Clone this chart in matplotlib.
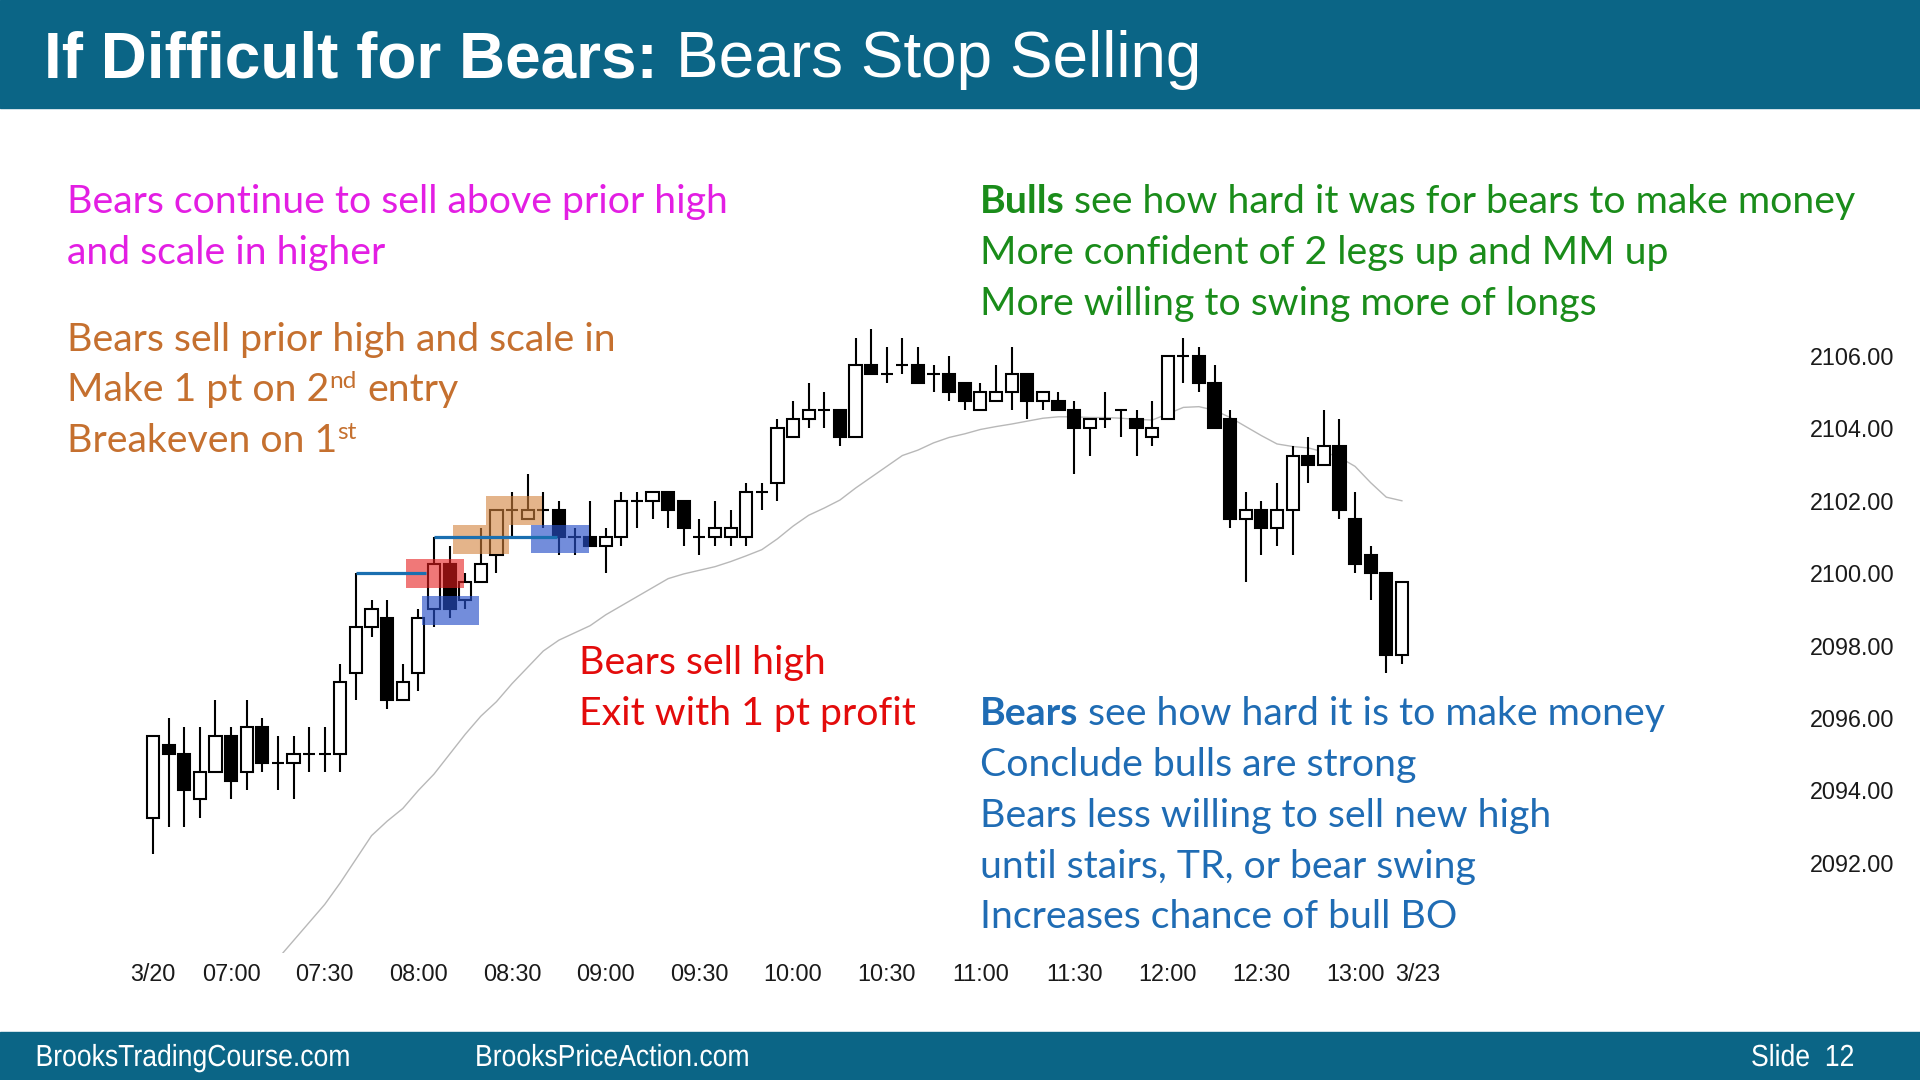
import matplotlib
matplotlib.use("Agg")
import matplotlib.pyplot as plt
from matplotlib.patches import Rectangle, PathPatch
from matplotlib.textpath import TextPath
from matplotlib.font_manager import FontProperties
from matplotlib.transforms import Affine2D

W, H = 1920, 1080

# 5-min bars 06:35 .. 13:15, one session
opens = [2093.25, 2095.25, 2095.00, 2093.75, 2094.50, 2095.50, 2094.50, 2095.75, 2094.75, 2094.75,
         2095.00, 2095.00, 2095.00, 2097.25, 2098.50, 2098.75, 2096.50, 2097.25, 2099.00, 2100.25,
         2099.25, 2099.75, 2100.50, 2101.75, 2101.50, 2101.75, 2101.75, 2101.00, 2101.00, 2100.75,
         2101.00, 2102.00, 2102.00, 2102.25, 2102.00, 2101.00, 2101.00, 2101.00, 2101.00, 2102.25,
         2102.50, 2103.75, 2104.25, 2104.50, 2104.50, 2103.75, 2105.75, 2105.50, 2105.75, 2105.75,
         2105.50, 2105.50, 2105.25, 2104.50, 2104.75, 2105.00, 2105.50, 2104.75, 2104.75, 2104.50,
         2104.00, 2104.25, 2104.50, 2104.25, 2103.75, 2104.25, 2106.00, 2106.00, 2105.25, 2104.25,
         2101.50, 2101.75, 2101.25, 2101.75, 2103.25, 2103.00, 2103.50, 2101.50, 2100.50, 2100.00,
         2097.75]
highs = [2095.50, 2096.00, 2095.75, 2095.75, 2096.50, 2095.75, 2096.50, 2096.00, 2095.50, 2095.50,
         2095.75, 2095.75, 2097.50, 2100.00, 2099.25, 2099.25, 2097.50, 2099.00, 2101.00, 2100.75,
         2100.00, 2101.25, 2101.75, 2102.25, 2102.75, 2102.25, 2102.00, 2101.25, 2102.00, 2101.25,
         2102.25, 2102.25, 2102.25, 2102.25, 2102.00, 2101.50, 2102.00, 2101.75, 2102.50, 2102.50,
         2104.25, 2104.75, 2105.25, 2105.00, 2104.50, 2106.50, 2106.75, 2106.25, 2106.50, 2106.25,
         2105.75, 2106.00, 2105.25, 2105.25, 2105.75, 2106.25, 2105.50, 2105.00, 2105.00, 2104.75,
         2104.25, 2105.00, 2104.50, 2104.50, 2104.75, 2106.00, 2106.50, 2106.25, 2105.75, 2104.50,
         2102.25, 2102.00, 2102.50, 2103.50, 2103.75, 2104.50, 2104.25, 2102.25, 2100.75, 2100.00,
         2099.75]
lows = [2092.25, 2093.00, 2093.00, 2093.25, 2094.50, 2093.75, 2094.00, 2094.50, 2094.00, 2093.75,
        2094.50, 2094.50, 2094.50, 2096.50, 2098.25, 2096.25, 2096.50, 2096.75, 2098.50, 2098.75,
        2099.00, 2099.75, 2100.00, 2101.00, 2101.50, 2101.25, 2100.50, 2100.50, 2100.75, 2100.00,
        2100.75, 2101.25, 2101.50, 2101.25, 2100.75, 2100.50, 2100.75, 2100.75, 2100.75, 2101.75,
        2102.00, 2103.75, 2104.00, 2104.00, 2103.50, 2103.75, 2105.50, 2105.25, 2105.50, 2105.25,
        2105.00, 2104.75, 2104.50, 2104.50, 2104.75, 2104.50, 2104.25, 2104.50, 2104.50, 2102.75,
        2103.25, 2104.00, 2103.75, 2103.25, 2103.50, 2104.25, 2105.25, 2105.00, 2104.00, 2101.25,
        2099.75, 2100.50, 2100.75, 2100.50, 2102.50, 2103.00, 2101.50, 2100.00, 2099.25, 2097.25,
        2097.50]
closes = [2095.50, 2095.00, 2094.00, 2094.50, 2095.50, 2094.25, 2095.75, 2094.75, 2094.75, 2095.00,
          2095.00, 2095.00, 2097.00, 2098.50, 2099.00, 2096.50, 2097.00, 2098.75, 2100.25, 2099.00,
          2099.75, 2100.25, 2101.75, 2101.75, 2101.75, 2101.75, 2101.00, 2101.00, 2100.75, 2101.00,
          2102.00, 2102.00, 2102.25, 2101.75, 2101.25, 2101.00, 2101.25, 2101.25, 2102.25, 2102.25,
          2104.00, 2104.25, 2104.50, 2104.50, 2103.75, 2105.75, 2105.50, 2105.50, 2105.75, 2105.25,
          2105.50, 2105.00, 2104.75, 2105.00, 2105.00, 2105.50, 2104.75, 2105.00, 2104.50, 2104.00,
          2104.25, 2104.25, 2104.50, 2104.00, 2104.00, 2106.00, 2106.00, 2105.25, 2104.00, 2101.50,
          2101.75, 2101.25, 2101.75, 2103.25, 2103.00, 2103.50, 2101.75, 2100.25, 2100.00, 2097.75,
          2099.75]

# 20-bar EMA (only the part that shows on the chart, from bar 8)
ema_start = 8
ema = [2089.35, 2089.85, 2090.35, 2090.85, 2091.45, 2092.10, 2092.75, 2093.15, 2093.50, 2094.00,
       2094.45, 2095.00, 2095.55, 2096.05, 2096.45, 2096.95, 2097.40, 2097.85, 2098.15, 2098.35,
       2098.55, 2098.85, 2099.10, 2099.35, 2099.60, 2099.85, 2099.98, 2100.08, 2100.18, 2100.32,
       2100.48, 2100.65, 2100.95, 2101.30, 2101.60, 2101.80, 2102.02, 2102.35, 2102.65, 2102.95,
       2103.25, 2103.40, 2103.60, 2103.75, 2103.85, 2103.97, 2104.05, 2104.12, 2104.20, 2104.28,
       2104.32, 2104.32, 2104.30, 2104.30, 2104.28, 2104.25, 2104.23, 2104.40, 2104.58, 2104.60,
       2104.50, 2104.30, 2104.05, 2103.80, 2103.57, 2103.50, 2103.46, 2103.35, 2103.20, 2102.95,
       2102.50, 2102.10, 2102.00]

tick_bars = [0, 5, 11, 17, 23, 29, 35, 41, 47, 53, 59, 65, 71, 77, 81]
tick_labels = ["3/20", "07:00", "07:30", "08:00", "08:30", "09:00", "09:30", "10:00",
               "10:30", "11:00", "11:30", "12:00", "12:30", "13:00", "3/23"]
price_ticks = [2092, 2094, 2096, 2098, 2100, 2102, 2104, 2106]

# entry zones: bar from, bar to, price low, price high
zone_bars = [(16.2, 19.9), (17.2, 20.9), (19.2, 22.8), (21.3, 24.9), (24.2, 27.9)]
zone_prices = [(2099.59, 2100.39), (2098.57, 2099.37), (2100.53, 2101.32),
               (2101.33, 2102.13), (2100.56, 2101.33)]
zone_kinds = ["red", "blue", "orange", "orange", "blue"]

# prior highs extended to the right: source bar, end bar
prior_high_bars = [(13, 17.5), (18, 25.9)]

footer_texts = ["BrooksTradingCourse.com", "BrooksPriceAction.com", "Slide  12"]

TEAL = "#0b6586"
BODY = "Lato"
zone_style = {"red": ("#e61e1e", 0.6), "blue": ("#2850c8", 0.65), "orange": ("#d2823c", 0.6)}

fig = plt.figure(figsize=(W / 100, H / 100), dpi=100)
fig.patch.set_facecolor("white")
rend = fig.canvas.get_renderer()

fig.add_artist(Rectangle((0, 1 - 108 / H), 1, 108 / H, transform=fig.transFigure,
                         color=TEAL, zorder=0))
fig.add_artist(Rectangle((0, 0), 1, 48 / H, transform=fig.transFigure,
                         color=TEAL, zorder=0))

# ── chart ──
ax = fig.add_axes([100 / W, 1 - 953 / H, 1700 / W, 633 / H])
ax.set_xlim(-3.395, 105.5)
ax.set_ylim(2089.508, 2106.994)
for s in ax.spines.values():
    s.set_visible(False)

bw = 0.78
for i, (o, h, l, c) in enumerate(zip(opens, highs, lows, closes)):
    ax.vlines(i, l, h, color="black", lw=1.5, zorder=2)
    if c == o:
        ax.hlines(o, i - bw / 2, i + bw / 2, color="black", lw=1.5, zorder=3)
    else:
        face = "white" if c > o else "black"
        ax.add_patch(Rectangle((i - bw / 2, min(o, c)), bw, abs(c - o),
                               facecolor=face, edgecolor="black", lw=1.5, zorder=3))

ax.plot(range(ema_start, ema_start + len(ema)), ema, color="#b8b8b8", lw=1.0, zorder=1)

for (x0, x1), (y0, y1), kind in zip(zone_bars, zone_prices, zone_kinds):
    col, a = zone_style[kind]
    ax.add_patch(Rectangle((x0, y0), x1 - x0, y1 - y0, facecolor=col, alpha=a,
                           lw=0, zorder=4))

for b0, b1 in prior_high_bars:
    ax.hlines(highs[b0], b0, b1, color="#1a6fb0", lw=2.3, zorder=5)

ax.set_xticks(tick_bars, tick_labels)
ax.set_yticks(price_ticks, [f"{p:.2f}" for p in price_ticks])
ax.yaxis.tick_right()
ax.tick_params(axis="y", length=0, pad=7.2, labelsize=16.8, labelcolor="#1a1a1a")
ax.tick_params(axis="x", length=0, pad=7.4, labelsize=16.8, labelcolor="#1a1a1a")
for lab in ax.get_xticklabels() + ax.get_yticklabels():
    lab.set_family("Liberation Sans")


# ── text helpers ──
def width_px(s, **kw):
    t = fig.text(0, 0, s, **kw)
    w = t.get_window_extent(renderer=rend).width
    t.remove()
    return w


def fit_size(s, target, **kw):
    return 20 * target / width_px(s, size=20, **kw)


def runs(x, base, parts, size, color, family):
    sp = width_px("a a", family=family, size=size) - width_px("aa", family=family, size=size)
    for txt, kind in parts:
        lead = len(txt) - len(txt.lstrip(" "))
        trail = len(txt) - len(txt.rstrip(" "))
        core = txt.strip(" ")
        x += lead * sp
        kw = dict(family=family, size=size, color=color)
        y = base
        if kind == "b":
            kw["weight"] = "bold"
        elif kind == "sup":
            kw["size"] = size * 0.62
            y = base - 0.34 * size * 100 / 72
        t = fig.text(x / W, 1 - y / H, core, va="baseline", ha="left", **kw)
        x += t.get_window_extent(renderer=rend).width + trail * sp


# title
tsize = fit_size("If Difficult for Bears:", 613.6, family="Liberation Sans", weight="bold")
runs(44, 77, [("If Difficult for Bears:", "b"), (" Bears Stop Selling", "n")],
     tsize, "white", "Liberation Sans")

# body text
bsize = fit_size("Bears continue to sell above prior high", 664, family=BODY)
step = 50.8

MAGENTA, ORANGE, RED = "#e31ee3", "#c5702f", "#e30b0b"
GREEN, BLUE = "#1a8c1a", "#1f6cb4"

for k, line in enumerate(["Bears continue to sell above prior high", "and scale in higher"]):
    runs(67.3, 213.3 + k * step, [(line, "n")], bsize, MAGENTA, BODY)

orange_lines = [
    [("Bears sell prior high and scale in", "n")],
    [("Make 1 pt on 2", "n"), ("nd", "sup"), (" entry", "n")],
    [("Breakeven on 1", "n"), ("st", "sup")],
]
for k, parts in enumerate(orange_lines):
    runs(67.3, 350.5 + k * step, parts, bsize, ORANGE, BODY)

for k, line in enumerate(["Bears sell high", "Exit with 1 pt profit"]):
    runs(579.2, 673.7 + k * step, [(line, "n")], bsize, RED, BODY)

green_lines = [
    [("Bulls", "b"), (" see how hard it was for bears to make money", "n")],
    [("More confident of 2 legs up and MM up", "n")],
    [("More willing to swing more of longs", "n")],
]
for k, parts in enumerate(green_lines):
    runs(979.6, 213.3 + k * step, parts, bsize, GREEN, BODY)

blue_lines = [
    [("Bears", "b"), (" see how hard it is to make money", "n")],
    [("Conclude bulls are strong", "n")],
    [("Bears less willing to sell new high", "n")],
    [("until stairs, TR, or bear swing", "n")],
    [("Increases chance of bull BO", "n")],
]
for k, parts in enumerate(blue_lines):
    runs(979.6, 725.2 + k * step, parts, bsize, BLUE, BODY)

# footer: condensed lettering, squeezed text paths
fp = FontProperties(family="Liberation Sans")
em = 30.5
squeeze = 311 / TextPath((0, 0), footer_texts[0], size=em, prop=fp).get_extents().width
for x, s in zip([35.5, 475, 1751], footer_texts):
    tp = TextPath((0, 0), s, size=em, prop=fp)
    tr = Affine2D().scale(squeeze, 1).translate(x, H - 1066).scale(1 / W, 1 / H)
    fig.add_artist(PathPatch(tr.transform_path(tp), transform=fig.transFigure,
                             facecolor="white", lw=0, zorder=2))

fig.savefig("out.png", dpi=100, facecolor="white")
